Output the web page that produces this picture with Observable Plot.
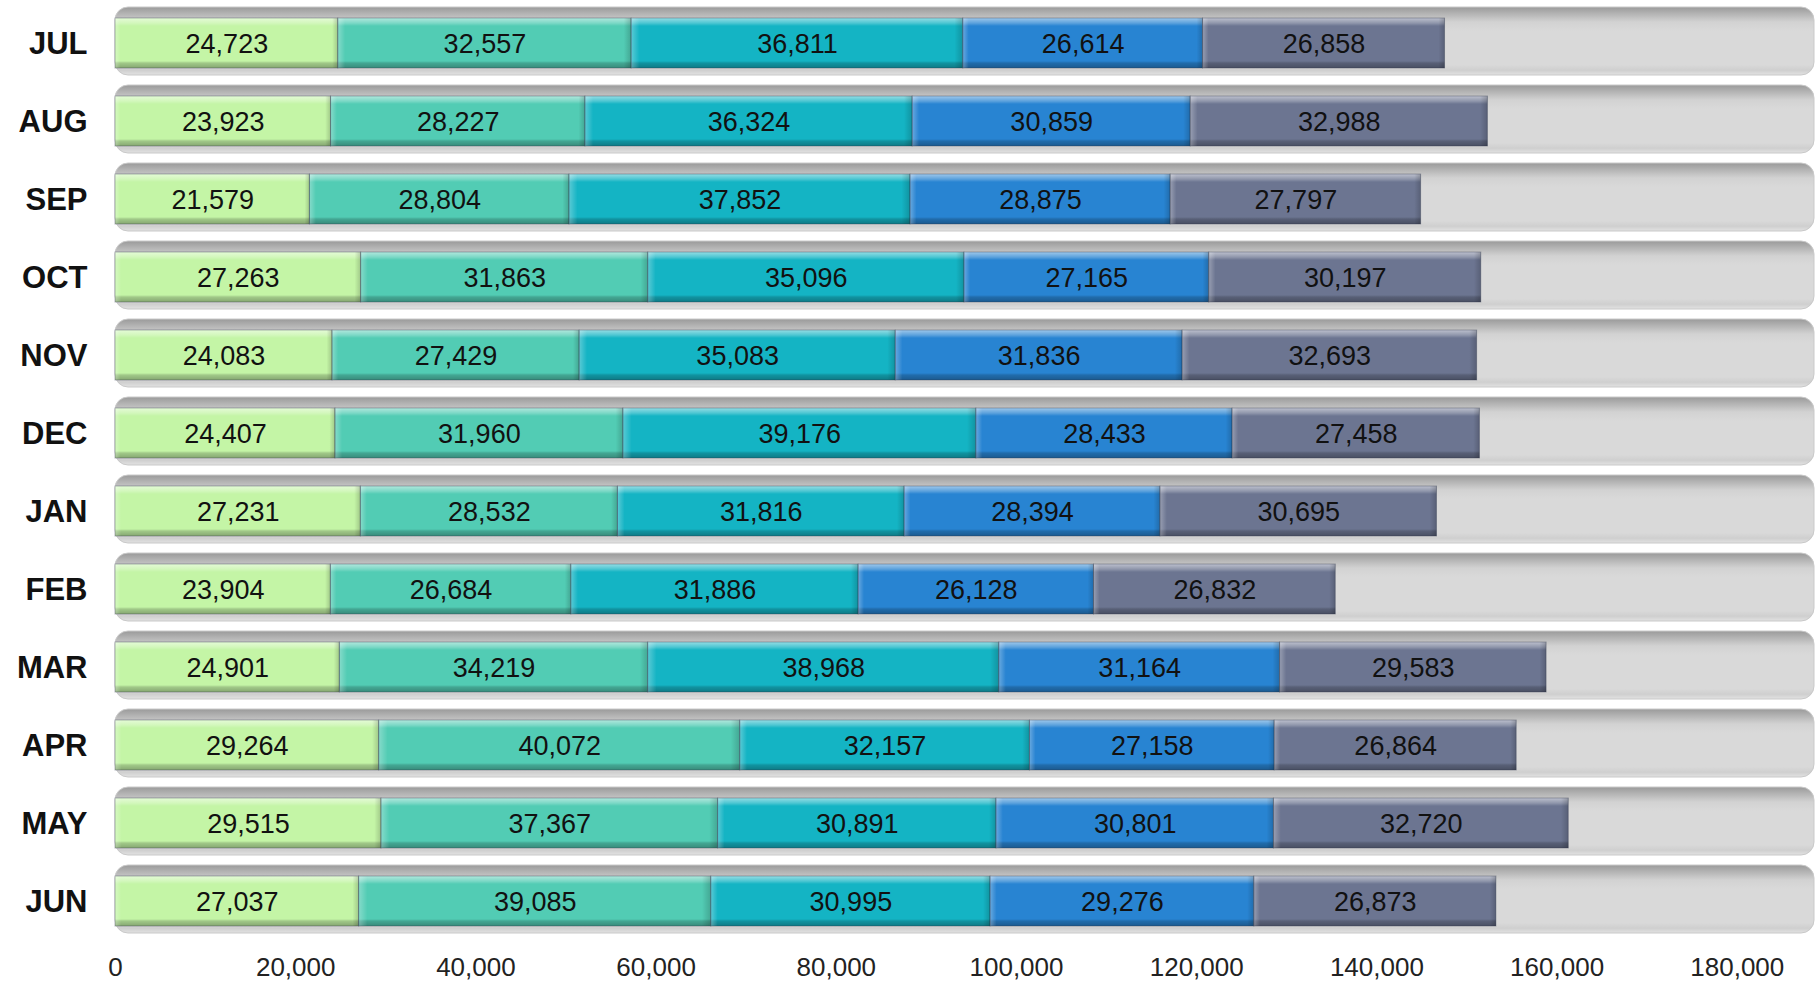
<!DOCTYPE html>
<html>
<head>
<meta charset="utf-8">
<script src="https://cdn.jsdelivr.net/npm/d3@7"></script>
<script src="https://cdn.jsdelivr.net/npm/@observablehq/plot@0.6"></script>
<style>
  html, body { margin: 0; padding: 0; background: #ffffff; }
  #chart { width: 1820px; height: 984px; overflow: hidden; }
</style>
</head>
<body>
<div id="chart"></div>
<script>
// ---- Data ----
const months = ["JUL", "AUG", "SEP", "OCT", "NOV", "DEC", "JAN", "FEB", "MAR", "APR", "MAY", "JUN"];
const seriesNames = ["Series 1", "Series 2", "Series 3", "Series 4", "Series 5"];
const series1 = [24723, 23923, 21579, 27263, 24083, 24407, 27231, 23904, 24901, 29264, 29515, 27037];
const series2 = [32557, 28227, 28804, 31863, 27429, 31960, 28532, 26684, 34219, 40072, 37367, 39085];
const series3 = [36811, 36324, 37852, 35096, 35083, 39176, 31816, 31886, 38968, 32157, 30891, 30995];
const series4 = [26614, 30859, 28875, 27165, 31836, 28433, 28394, 26128, 31164, 27158, 30801, 29276];
const series5 = [26858, 32988, 27797, 30197, 32693, 27458, 30695, 26832, 29583, 26864, 32720, 26873];
const xTicks = [0, 20000, 40000, 60000, 80000, 100000, 120000, 140000, 160000, 180000];
const colors = ["#c4f5a6", "#52ccb4", "#14b4c4", "#2884d2", "#6c7591"];

const allSeries = [series1, series2, series3, series4, series5];
const data = months.flatMap((m, i) =>
  allSeries.map((arr, k) => ({ month: m, series: seriesNames[k], value: arr[i] }))
);

const xMax = 188570;
const fmt = d3.format(",");

const svg = Plot.plot({
  width: 1820,
  height: 984,
  marginLeft: 115,
  marginRight: 6,
  marginTop: 0,
  marginBottom: 27,
  style: { fontFamily: "'Liberation Sans', Arial, sans-serif", background: "#ffffff", overflow: "visible" },
  x: { domain: [0, xMax], range: [115, 1814] },
  y: { domain: months, range: [1.1, 938.3], paddingInner: 0.125, paddingOuter: 0.0625 },
  color: { domain: seriesNames, range: colors },
  marks: [
    Plot.ruleX(xTicks, { stroke: "#ececec", strokeWidth: 1, y1: 0, y2: 945 }),
    Plot.barX(months, { x1: 0, x2: xMax, y: d => d, fill: "url(#trackGrad)", rx: 13, stroke: "#c9c9c9", strokeWidth: 1 }),
    Plot.ruleX(months.flatMap(m => xTicks.slice(1).map(t => ({ m, t }))), { x: "t", y: "m", stroke: "#e1e1e1", strokeWidth: 1, insetTop: 4, insetBottom: 4 }),
    Plot.barX(data, Plot.stackX({ x: "value", y: "month", fill: "series", insetTop: 11, insetBottom: 7 })),
    Plot.barX(data, Plot.stackX({ x: "value", y: "month", fill: "url(#bevelV)", insetTop: 11, insetBottom: 7 })),
    Plot.barX(data, Plot.stackX({ x: "value", y: "month", fill: "url(#bevelH)", insetTop: 11, insetBottom: 7, stroke: "rgba(40,50,70,0.35)", strokeWidth: 1 })),
    Plot.text(data, Plot.stackX({ x: "value", y: "month", text: d => fmt(d.value), fill: "#111111", fontSize: 27, dy: 3 })),
    Plot.axisX({ ticks: xTicks, tickFormat: fmt, tickSize: 0, tickPadding: 0, fontSize: 26, color: "#222222" }),
    Plot.axisY({ tickSize: 0, tickPadding: 28, fontSize: 31, fontWeight: "bold", color: "#111111", dy: 3 })
  ]
});

// gradient definitions for bevel and track look
const defs = d3.select(svg).insert("defs", ":first-child");
const trackG = defs.append("linearGradient").attr("id", "trackGrad").attr("x1", 0).attr("y1", 0).attr("x2", 0).attr("y2", 1);
[[0, "#9a9a9a"], [0.1, "#b4b4b4"], [0.22, "#d2d2d2"], [0.35, "#d9d9d9"], [0.85, "#d9d9d9"], [0.93, "#cfcfcf"], [1, "#e2e2e2"]]
  .forEach(([o, c]) => trackG.append("stop").attr("offset", o).attr("stop-color", c));

const bv = defs.append("linearGradient").attr("id", "bevelV").attr("x1", 0).attr("y1", 0).attr("x2", 0).attr("y2", 1);
[[0, "#ffffff", 0.55], [0.1, "#ffffff", 0.25], [0.16, "#ffffff", 0.0], [0.86, "#000000", 0.0], [0.9, "#000000", 0.18], [1, "#000000", 0.32]]
  .forEach(([o, c, a]) => bv.append("stop").attr("offset", o).attr("stop-color", c).attr("stop-opacity", a));

const bh = defs.append("linearGradient").attr("id", "bevelH").attr("x1", 0).attr("y1", 0).attr("x2", 1).attr("y2", 0);
[[0, "#ffffff", 0.3], [0.025, "#ffffff", 0.0], [0.975, "#000000", 0.0], [1, "#000000", 0.18]]
  .forEach(([o, c, a]) => bh.append("stop").attr("offset", o).attr("stop-color", c).attr("stop-opacity", a));

document.getElementById("chart").appendChild(svg);
</script>
</body>
</html>
